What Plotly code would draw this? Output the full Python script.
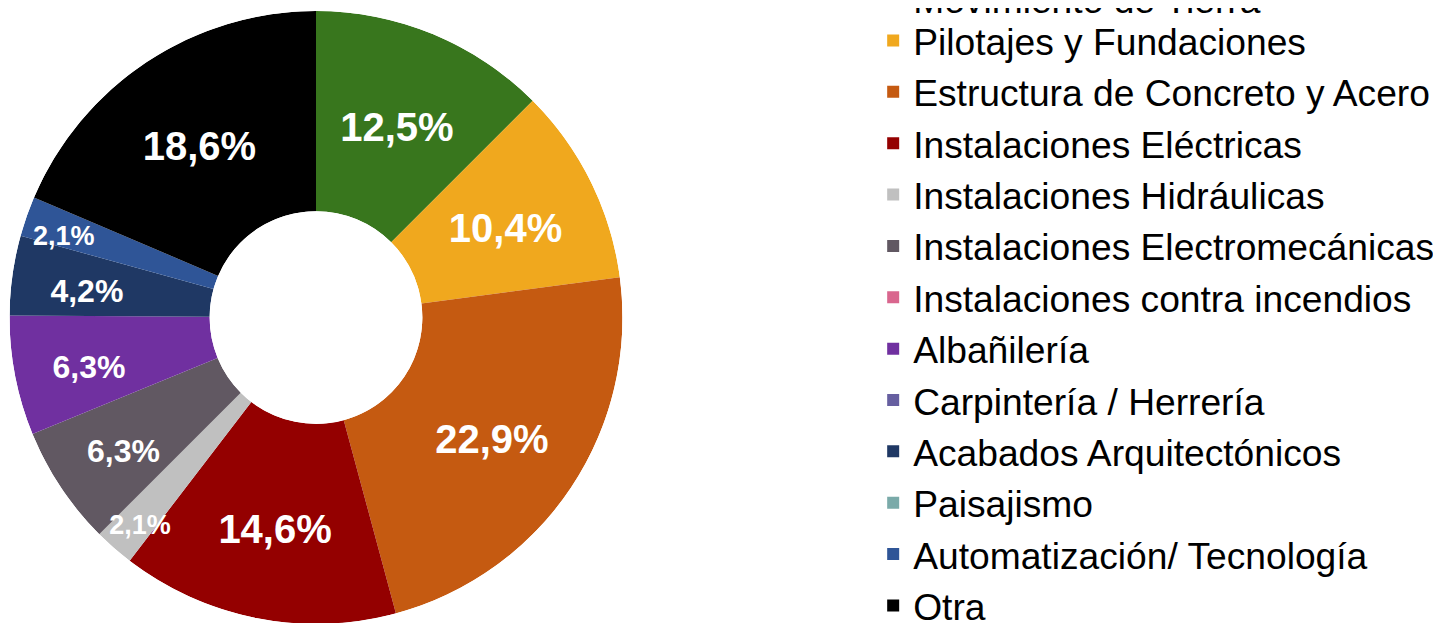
import plotly.graph_objects as go

# datos del gráfico (porcentajes por especialidad)
categorias = [
    "Movimiento de Tierra",
    "Pilotajes y Fundaciones",
    "Estructura de Concreto y Acero",
    "Instalaciones Eléctricas",
    "Instalaciones Hidráulicas",
    "Instalaciones Electromecánicas",
    "Instalaciones contra incendios",
    "Albañilería",
    "Carpintería / Herrería",
    "Acabados Arquitectónicos",
    "Paisajismo",
    "Automatización/ Tecnología",
    "Otra",
]
porcentajes = [12.5, 10.4, 22.9, 14.6, 2.1, 6.3, 0, 6.3, 0, 4.2, 0, 2.1, 18.6]
colores = [
    "#38761d", "#f0a81e", "#c55a11", "#940000", "#c0c0c0", "#615862",
    "#d9668e", "#7030a0", "#665fa0", "#1f3864", "#7aaaa9", "#2f5597", "#000000",
]

FONT = "Liberation Sans, Arial, sans-serif"
H = 623

total = sum(porcentajes)
grados = [v * 360 / total for v in porcentajes]
medios = []
acum = 0
for g in grados:
    medios.append(acum + g / 2)
    acum += g


def etiqueta(v):
    return "" if v == 0 else f"{v:.1f}%".replace(".", ",")


def tam_texto(v):
    if v >= 10:
        return 40
    if v >= 4:
        return 32
    return 27


def radio_texto(v):
    if v >= 10:
        return 0.53
    if v >= 4:
        return 0.63
    return 0.81


def leyenda(i):
    # el primer elemento queda cortado arriba, el resto en dos bloques
    if i == 0:
        return "legend2"
    return "legend" if i <= 6 else "legend3"


fig = go.Figure()

for i, (cat, g, m, col) in enumerate(zip(categorias, grados, medios, colores)):
    fig.add_trace(go.Barpolar(
        r=[1], theta=[m], width=[g],
        marker=dict(color=col, line=dict(width=0)),
        name=cat,
        legend=leyenda(i),
        hoverinfo="name",
    ))

# etiquetas en un segundo eje polar algo desplazado hacia abajo
fig.add_trace(go.Scatterpolar(
    r=[radio_texto(v) for v in porcentajes],
    theta=medios,
    mode="text",
    text=[etiqueta(v) for v in porcentajes],
    textfont=dict(color="white", size=[tam_texto(v) for v in porcentajes],
                  family=FONT, weight="bold"),
    subplot="polar2",
    showlegend=False,
    hoverinfo="skip",
))

leg = dict(
    font=dict(size=37.2, family=FONT, color="#000000"),
    xanchor="left", yanchor="top",
    bgcolor="rgba(0,0,0,0)",
    x=0.6004,
)
fila = 37.2 * 1.3 + 3
y0 = 1.8

eje_polar = dict(
    hole=0.347,
    bgcolor="rgba(0,0,0,0)",
    radialaxis=dict(visible=False, range=[0, 1]),
    angularaxis=dict(visible=False, rotation=90, direction="clockwise"),
)

fig.update_layout(
    width=1441, height=H,
    margin=dict(l=0, r=0, t=0, b=0, autoexpand=False),
    paper_bgcolor="white",
    polar=dict(eje_polar, domain=dict(x=[0, 616 / 1441], y=[7 / H, 620 / H])),
    polar2=dict(eje_polar, domain=dict(x=[0, 616 / 1441], y=[0, 610 / H])),
    legend=dict(leg, y=1 - y0 / H),
    legend2=dict(leg, y=1 - (y0 - fila + 9) / H),
    legend3=dict(leg, y=1 - (y0 + 6 * fila) / H),
)

fig.write_html("out.html")
